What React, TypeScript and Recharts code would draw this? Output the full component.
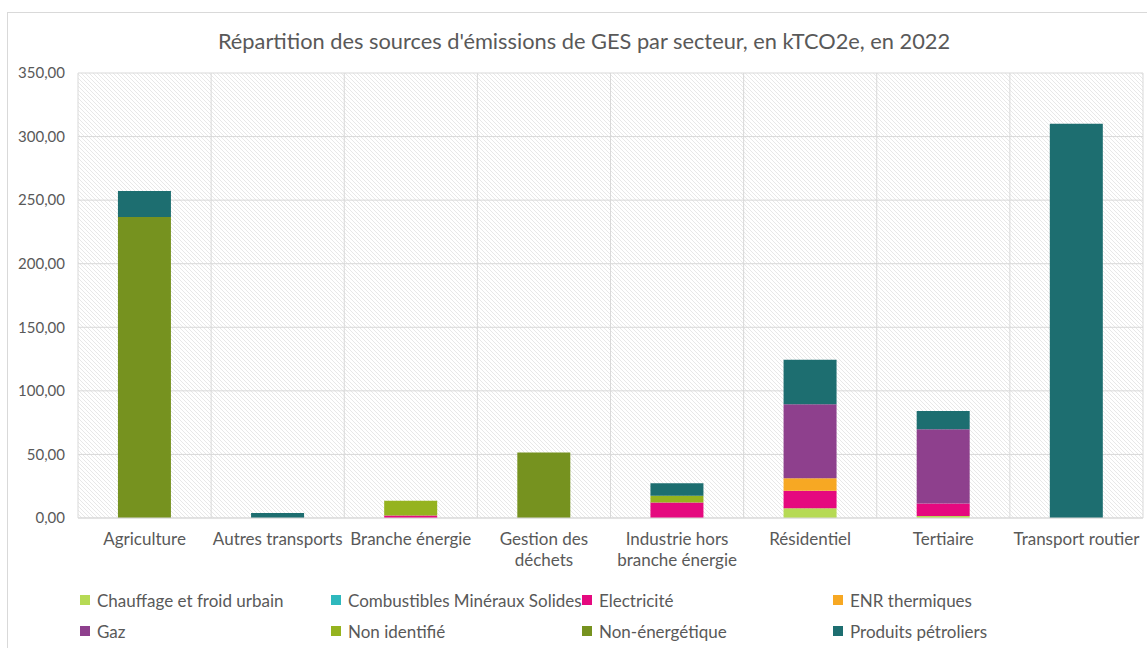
import { Bar, BarChart, CartesianGrid, Text, XAxis, YAxis } from "recharts";

const TITLE =
  "Répartition des sources d'émissions de GES par secteur, en kTCO2e, en 2022";

const sectors = [
  "Agriculture",
  "Autres transports",
  "Branche énergie",
  "Gestion des déchets",
  "Industrie hors branche énergie",
  "Résidentiel",
  "Tertiaire",
  "Transport routier",
];

const chauffage = [0, 0, 0, 0, 0, 7.6, 1.6, 0];
const combustibles = [0, 0, 0, 0, 0, 0, 0, 0];
const electricite = [0, 0, 2, 0, 12.2, 13.9, 9.9, 0];
const enr = [0, 0, 0, 0, 0, 9.7, 0, 0];
const gaz = [0, 0, 0, 0, 0, 58.2, 58.3, 0];
const nonIdentifie = [0, 0, 11.5, 0, 5.3, 0, 0, 0];
const nonEnergetique = [236.7, 0, 0, 51.5, 0, 0, 0, 0];
const produitsPetroliers = [20.5, 4, 0, 0, 9.8, 35, 14.4, 310];

const yTicks = [0, 50, 100, 150, 200, 250, 300, 350];

const series = [
  { key: "chauffage", name: "Chauffage et froid urbain", color: "#B6DA55", values: chauffage },
  { key: "combustibles", name: "Combustibles Minéraux Solides", color: "#2EB8BD", values: combustibles },
  { key: "electricite", name: "Electricité", color: "#E5097F", values: electricite },
  { key: "enr", name: "ENR thermiques", color: "#F7A823", values: enr },
  { key: "gaz", name: "Gaz", color: "#8E408D", values: gaz },
  { key: "nonIdentifie", name: "Non identifié", color: "#95B31F", values: nonIdentifie },
  { key: "nonEnergetique", name: "Non-énergétique", color: "#76921F", values: nonEnergetique },
  { key: "produits", name: "Produits pétroliers", color: "#1D6E70", values: produitsPetroliers },
];

const data = sectors.map((s, i) => {
  const row: Record<string, string | number> = { sector: s };
  series.forEach((se) => {
    row[se.key] = se.values[i];
  });
  return row;
});

const FONT = "Lato, 'Open Sans', sans-serif";
const TEXT_COLOR = "#595959";
const GRID = "#d9d9d9";

const fmt = (v: number) => v.toFixed(2).replace(".", ",");

function SectorTick(props: any) {
  const { x, y, payload } = props;
  return (
    <Text
      x={x}
      y={y + 13}
      width={136}
      textAnchor="middle"
      verticalAnchor="start"
      lineHeight={21}
      fill={TEXT_COLOR}
      style={{ fontFamily: FONT, fontSize: 17 }}
    >
      {payload.value}
    </Text>
  );
}

export default function App() {
  return (
    <div
      style={{
        position: "fixed",
        top: 0,
        left: 0,
        width: 1147,
        height: 648,
        background: "#fff",
        overflow: "hidden",
        fontFamily: FONT,
      }}
    >
      <div
        style={{
          position: "absolute",
          left: 7,
          top: 12,
          width: 1160,
          height: 660,
          border: `1px solid ${GRID}`,
        }}
      />
      <div
        style={{
          position: "absolute",
          top: 27,
          left: 0,
          width: 1168,
          textAlign: "center",
          fontSize: 21.8,
          color: TEXT_COLOR,
        }}
      >
        {TITLE}
      </div>
      <div style={{ position: "absolute", top: 0, left: 0 }}>
        <BarChart
          width={1147}
          height={648}
          data={data}
          margin={{ top: 73, right: 4, bottom: 0, left: 0 }}
          barCategoryGap="30%"
        >
          <defs>
            <pattern id="hatch" width="4" height="4" patternUnits="userSpaceOnUse">
              <rect width="4" height="4" fill="#ffffff" />
              <path
                d="M0,0 L4,4 M-1,3 L1,5 M3,-1 L5,1"
                stroke="#e8e8e8"
                strokeWidth={1}
              />
            </pattern>
          </defs>
          <CartesianGrid
            stroke={GRID}
            fill="url(#hatch)"
            fillOpacity={1}
            verticalCoordinatesGenerator={({ offset }: any) =>
              Array.from(
                { length: sectors.length + 1 },
                (_, i) => offset.left + (i * offset.width) / sectors.length
              )
            }
          />
          <XAxis
            dataKey="sector"
            interval={0}
            height={130}
            tickLine={false}
            tickSize={0}
            axisLine={{ stroke: GRID }}
            tick={<SectorTick />}
          />
          <YAxis
            width={78}
            domain={[0, 350]}
            ticks={yTicks}
            tickFormatter={fmt}
            axisLine={false}
            tickLine={false}
            tickSize={0}
            tickMargin={13}
            tick={{ fill: TEXT_COLOR, fontSize: 15, fontFamily: FONT }}
          />
          {series.map((s) => (
            <Bar
              key={s.key}
              dataKey={s.key}
              name={s.name}
              stackId="a"
              fill={s.color}
              isAnimationActive={false}
            />
          ))}
        </BarChart>
      </div>
      <div
        style={{
          position: "absolute",
          top: 589,
          left: 80,
          display: "grid",
          gridTemplateColumns: "251px 251px 251px 251px",
          rowGap: 9,
          fontSize: 17,
          color: TEXT_COLOR,
        }}
      >
        {series.map((s) => (
          <div
            key={s.key}
            style={{ display: "flex", alignItems: "center", height: 22, whiteSpace: "nowrap" }}
          >
            <span
              style={{
                display: "inline-block",
                width: 10,
                height: 10,
                background: s.color,
                marginRight: 7,
                flexShrink: 0,
              }}
            />
            {s.name}
          </div>
        ))}
      </div>
    </div>
  );
}
